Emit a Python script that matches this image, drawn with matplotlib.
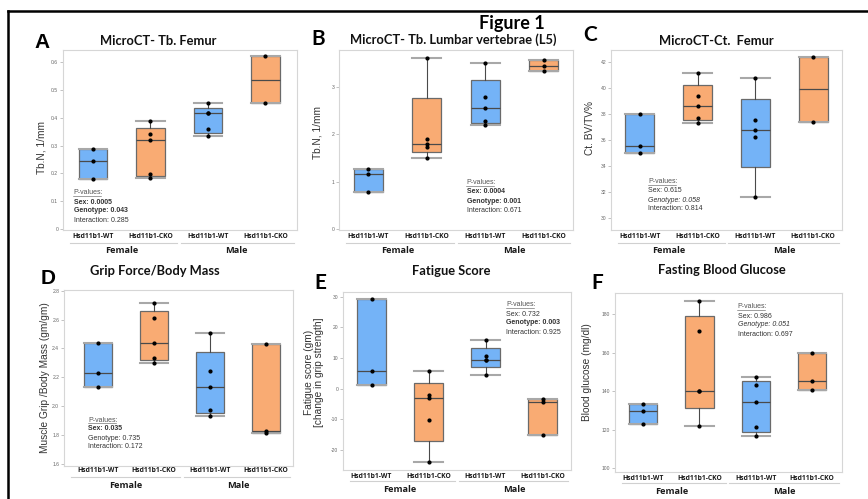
import matplotlib
matplotlib.use("Agg")
import matplotlib.pyplot as plt
import matplotlib.transforms as mt
from matplotlib.lines import Line2D
import numpy as np

# ---------------- data ----------------
categories = ["Hsd11b1-WT", "Hsd11b1-CKO", "Hsd11b1-WT", "Hsd11b1-CKO"]
groups = ["Female", "Male"]

A_F_WT = [0.289, 0.245, 0.179]
A_F_CKO = [0.390, 0.340, 0.319, 0.199, 0.184]
A_M_WT = [0.453, 0.416, 0.416, 0.360, 0.334]
A_M_CKO = [0.622, 0.454]

B_F_WT = [1.27, 1.15, 0.78]
B_F_CKO = [3.61, 1.90, 1.79, 1.73, 1.50]
B_M_WT = [3.49, 2.78, 2.55, 2.27, 2.20]
B_M_CKO = [3.56, 3.44, 3.33]

C_F_WT = [38.0, 35.55, 35.0]
C_F_CKO = [41.15, 39.35, 38.6, 37.7, 37.3]
C_M_WT = [40.75, 37.55, 36.75, 36.2, 31.65]
C_M_CKO = [42.35, 37.4]

D_F_WT = [2.435, 2.232, 2.130]
D_F_CKO = [2.712, 2.611, 2.435, 2.336, 2.301]
D_M_WT = [2.504, 2.241, 2.130, 1.971, 1.932]
D_M_CKO = [2.430, 1.828, 1.812]

E_F_WT = [29.2, 5.8, 1.3]
E_F_CKO = [5.8, -2.0, -2.9, -10.2, -23.8]
E_M_WT = [16.0, 10.6, 9.3, 9.3, 4.6]
E_M_CKO = [-3.4, -4.3, -15.2]

F_F_WT = [133.2, 129.6, 123.2]
F_F_CKO = [186.9, 171.2, 140.3, 140.3, 121.8]
F_M_WT = [147.4, 143.2, 134.2, 121.3, 116.8]
F_M_CKO = [160.0, 145.3, 140.6]

A_ticks = [0, 0.1, 0.2, 0.3, 0.4, 0.5, 0.6]
A_tick_labels = ["0", "0.1", "0.2", "0.3", "0.4", "0.5", "0.6"]
B_ticks = [0, 1, 2, 3]
B_tick_labels = ["0", "1", "2", "3"]
C_ticks = [30, 32, 34, 36, 38, 40, 42]
C_tick_labels = ["30", "32", "34", "36", "38", "40", "42"]
D_ticks = [1.6, 1.8, 2.0, 2.2, 2.4, 2.6, 2.8]
D_tick_labels = ["1.6", "1.8", "2.0", "2.2", "2.4", "2.6", "2.8"]
E_ticks = [-20, -10, 0, 10, 20, 30]
E_tick_labels = ["-20", "-10", "0", "10", "20", "30"]
F_ticks = [100, 120, 140, 160, 180]
F_tick_labels = ["100", "120", "140", "160", "180"]

A_pvals = ["Sex: 0.0005", "Genotype: 0.043", "Interaction: 0.285"]
B_pvals = ["Sex: 0.0004", "Genotype: 0.001", "Interaction: 0.671"]
C_pvals = ["Sex: 0.615", "Genotype: 0.058", "Interaction: 0.814"]
D_pvals = ["Sex: 0.035", "Genotype: 0.735", "Interaction: 0.172"]
E_pvals = ["Sex: 0.732", "Genotype: 0.003", "Interaction: 0.925"]
F_pvals = ["Sex: 0.986", "Genotype: 0.051", "Interaction: 0.697"]

# ---------------- style / layout ----------------
W, H = 868, 499
BLUE = "#74B3F7"
ORANGE = "#F9AB73"
box_colors = [BLUE, ORANGE, BLUE, ORANGE]
TITLE_FONT = ["Lato", "DejaVu Sans"]
LAB_FONT = ["Open Sans", "DejaVu Sans"]
SANS = ["Liberation Sans", "DejaVu Sans"]

fig = plt.figure(figsize=(W / 100, H / 100), dpi=100)
fig.patch.set_facecolor("white")


def fx(x):
    return x / W


def fy(y):
    return 1 - y / H


def minitab_q(vals, p):
    v = np.sort(np.asarray(vals, float))
    n = len(v)
    pos = min(max(p * (n + 1), 1), n)
    lo = int(np.floor(pos))
    frac = pos - lo
    if lo >= n:
        return v[-1]
    return v[lo - 1] + frac * (v[lo] - v[lo - 1])


def stats_of(vals):
    v = np.asarray(vals, float)
    q1 = minitab_q(v, 0.25)
    q3 = minitab_q(v, 0.75)
    med = float(np.median(v))
    iqr = q3 - q1
    lo = v[v >= q1 - 1.5 * iqr].min()
    hi = v[v <= q3 + 1.5 * iqr].max()
    return dict(med=med, q1=q1, q3=q3, whislo=lo, whishi=hi, fliers=[])


def panel(rect, series, ylim, yticks, ytlabels, xlim, ylabel, ylabel_xy, title,
          title_xy, letter, letter_xy, letter_font, pvals, pv_xy, pv_styles,
          lab_y, line_y, grp_y):
    l, t, r, b = rect
    ax = fig.add_axes([fx(l), fy(b), fx(r - l), (b - t) / H])
    pos = [1, 2, 3, 4]
    st = [stats_of(s) for s in series]
    bp = ax.bxp(st, positions=pos, widths=0.5, patch_artist=True,
                showfliers=False, capwidths=0.5,
                boxprops=dict(edgecolor="#6a6a6a", linewidth=0.9),
                medianprops=dict(color="#4a4a4a", linewidth=0.9),
                whiskerprops=dict(color="#4a4a4a", linewidth=0.8),
                capprops=dict(color="#a8a8a8", linewidth=1.5))
    for patch, c in zip(bp["boxes"], box_colors):
        patch.set_facecolor(c)
    for p, s in zip(pos, series):
        ax.plot([p] * len(s), s, "o", color="black", ms=2.0, zorder=5)
    ax.set_xlim(*xlim)
    ax.set_ylim(*ylim)
    ax.set_yticks(yticks)
    ax.set_yticklabels(ytlabels, fontsize=3.6, color="#666666", family=SANS)
    ax.tick_params(axis="y", length=2.5, width=0.5, color="#aaaaaa", pad=1.0)
    ax.set_xticks([])
    for sp in ax.spines.values():
        sp.set_color("#d6d6d6")
        sp.set_linewidth(0.8)
    tr = mt.blended_transform_factory(ax.transData, fig.transFigure)
    for p, c in zip(pos, categories):
        ax.text(p, fy(lab_y), c, transform=tr, ha="center", va="center",
                fontsize=4.9, fontweight="bold", family=LAB_FONT, color="#1a1a1a",
                clip_on=False)
    ax.add_line(Line2D([xlim[0] + 0.12, 2.47], [fy(line_y)] * 2, transform=tr,
                       color="#d0d0d0", lw=0.8, clip_on=False))
    ax.add_line(Line2D([2.53, xlim[1] - 0.05], [fy(line_y)] * 2, transform=tr,
                       color="#d0d0d0", lw=0.8, clip_on=False))
    for gx, g in zip([1.5, 3.5], groups):
        ax.text(gx, fy(grp_y), g, transform=tr, ha="center", va="center",
                fontsize=6.6, fontweight="bold", family=LAB_FONT, color="#1a1a1a",
                clip_on=False)
    fig.text(fx(ylabel_xy[0]), fy(ylabel_xy[1]), ylabel, rotation=90, ha="center",
             va="center", fontsize=7.3, color="#333333", family=SANS, linespacing=1.0)
    fig.text(fx(title_xy[0]), fy(title_xy[1]), title, ha="center", va="center",
             fontsize=9.3, fontweight="bold", family=TITLE_FONT, color="#111111")
    fig.text(fx(letter_xy[0]), fy(letter_xy[1]), letter, ha="center", va="center",
             fontsize=15, fontweight="bold", family=letter_font, color="black")
    x0, y0 = pv_xy
    hdr = fig.text(fx(x0), fy(y0), "P-values:", ha="left", va="center",
                   fontsize=5.0, color="#555555", family=SANS)
    for i, (txt, sty) in enumerate(zip(pvals, pv_styles)):
        fig.text(fx(x0 + 0.5), fy(y0 + 9.0 * (i + 1)), txt, ha="left", va="center",
                 fontsize=5.0, color="#333333", family=SANS,
                 fontweight="bold" if sty == "bold" else "normal",
                 fontstyle="italic" if sty == "italic" else "normal")
    return hdr


headers = []
headers.append(panel((63, 50, 297, 230), [A_F_WT, A_F_CKO, A_M_WT, A_M_CKO],
                     (-0.005, 0.645), A_ticks, A_tick_labels, (0.48, 4.55),
                     "Tb.N, 1/mm", (41, 147),
                     "MicroCT- Tb. Femur", (158, 41), "A", (42, 43), SANS,
                     A_pvals, (73, 193), ["bold", "bold", "normal"], 236, 243, 251))
headers.append(panel((339, 50, 573, 230), [B_F_WT, B_F_CKO, B_M_WT, B_M_CKO],
                     (-0.02, 3.77), B_ticks, B_tick_labels, (0.5, 4.5),
                     "Tb.N, 1/mm", (318, 133),
                     "MicroCT- Tb. Lumbar vertebrae (L5)", (453, 40), "B", (318, 39),
                     TITLE_FONT, B_pvals, (466, 183), ["bold", "bold", "normal"],
                     236, 243, 251))
headers.append(panel((611, 50, 842, 230), [C_F_WT, C_F_CKO, C_M_WT, C_M_CKO],
                     (29.1, 42.9), C_ticks, C_tick_labels, (0.5, 4.5),
                     "Ct. BV/TV%", (590, 128),
                     "MicroCT-Ct.  Femur", (716, 41), "C", (590, 35), TITLE_FONT,
                     C_pvals, (648, 182), ["normal", "italic", "normal"],
                     236, 243, 251))
headers.append(panel((64, 290, 293, 466), [D_F_WT, D_F_CKO, D_M_WT, D_M_CKO],
                     (1.585, 2.805), D_ticks, D_tick_labels, (0.4, 4.48),
                     "Muscle Grip /Body Mass (gm/gm)", (45, 378),
                     "Grip Force/Body Mass", (155, 271), "D", (48, 279), SANS,
                     D_pvals, (88, 420), ["bold", "normal", "normal"], 471, 477, 485))
headers.append(panel((343, 292, 571, 470), [E_F_WT, E_F_CKO, E_M_WT, E_M_CKO],
                     (-26.5, 31.5), E_ticks, E_tick_labels, (0.5, 4.5),
                     "Fatigue score (gm)\n[change in grip strength]", (314, 372),
                     "Fatigue Score", (451, 271), "E", (320, 283), TITLE_FONT,
                     E_pvals, (506, 305), ["normal", "bold", "normal"], 476, 481, 489))
headers.append(panel((615, 293, 842, 472), [F_F_WT, F_F_CKO, F_M_WT, F_M_CKO],
                     (98.1, 190.9), F_ticks, F_tick_labels, (0.5, 4.53),
                     "Blood glucose (mg/dl)",
                     (587, 372), "Fasting Blood Glucose", (722, 270), "F", (597, 283),
                     TITLE_FONT, F_pvals, (737, 307), ["normal", "italic", "normal"],
                     478, 483, 491))

fig.text(fx(512), fy(23), "Figure 1", ha="center", va="center", fontsize=13,
         fontweight="bold", family=TITLE_FONT, color="black")

# outer frame lines
fig.add_artist(Line2D([fx(8), 1.0], [fy(11), fy(11)], color="black", lw=1.8,
                      transform=fig.transFigure))
fig.add_artist(Line2D([fx(8), fx(8)], [0.0, fy(11)], color="black", lw=1.8,
                      transform=fig.transFigure))

# underline "P-values:"
fig.canvas.draw()
renderer = fig.canvas.get_renderer()
inv = fig.transFigure.inverted()
for h in headers:
    bb = h.get_window_extent(renderer)
    (x0, y0), (x1, _) = inv.transform([(bb.x0, bb.y0), (bb.x1, bb.y0)])
    fig.add_artist(Line2D([x0, x1 - 0.002], [y0 + 0.001, y0 + 0.001], color="#555555",
                          lw=0.4, transform=fig.transFigure))

fig.savefig("out.png", dpi=100)
